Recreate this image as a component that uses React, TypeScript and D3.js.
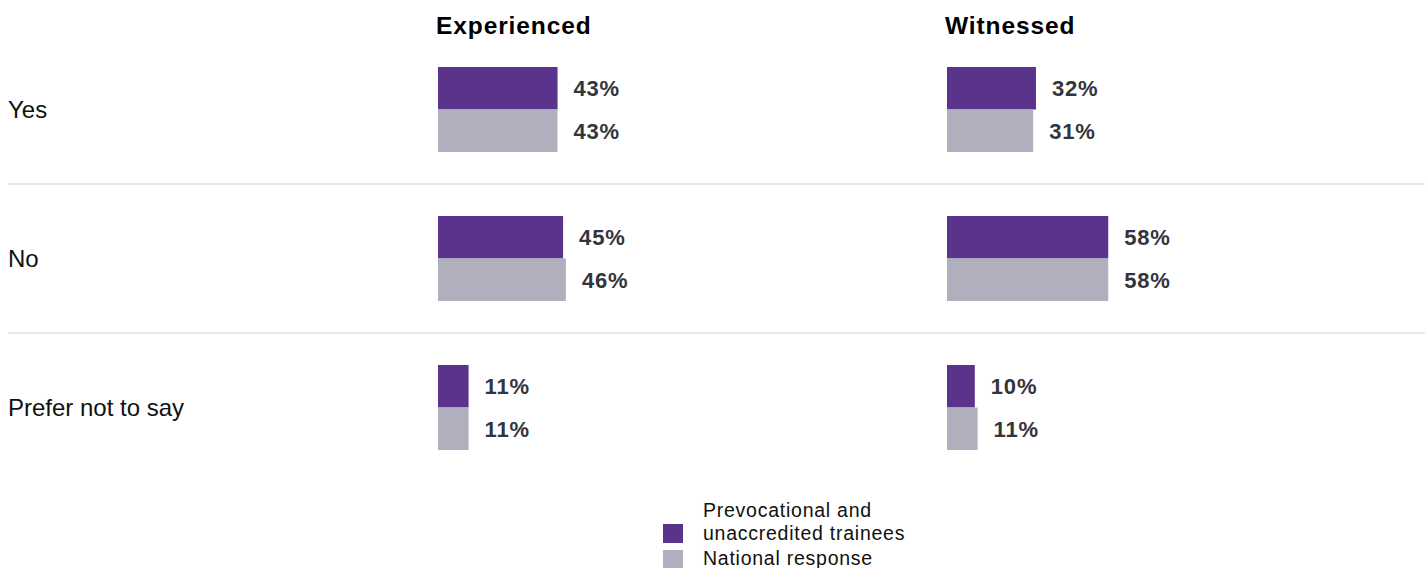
import React from "react";
import * as d3 from "d3";

const categories = ["Yes", "No", "Prefer not to say"];
const panels = ["Experienced", "Witnessed"];
const seriesNames = ["Prevocational and unaccredited trainees", "National response"];
const experiencedPrevoc = [43, 45, 11];
const experiencedNational = [43, 46, 11];
const witnessedPrevoc = [32, 58, 10];
const witnessedNational = [31, 58, 11];

const colors = ["#5a338d", "#b0afbd"];

export default function App() {
  const W = 1425;
  const H = 568;
  const panelData = [
    [experiencedPrevoc, experiencedNational],
    [witnessedPrevoc, witnessedNational],
  ];
  const panelX = d3.scalePoint<string>().domain(panels).range([438, 947]);
  const x = d3.scaleLinear().domain([0, 100]).range([0, 278]);
  const y = d3.scaleBand<string>().domain(categories).range([35, 482]);
  const bandH = y.bandwidth();
  const barH = 42.5;

  return (
    <svg width={W} height={H} style={{ position: "absolute", left: 0, top: 0 }}
      fontFamily="'Liberation Sans', Arial, Helvetica, sans-serif">
      {panels.map((p) => (
        <text key={p} x={(panelX(p) as number) - 2} y={34} fontSize={24.5} fontWeight="bold"
          letterSpacing={0.9} fill="#000">{p}</text>
      ))}
      {categories.map((c, i) => {
        const cy = (y(c) as number) + bandH / 2;
        return (
          <g key={c}>
            <text x={8} y={cy + 8.8} fontSize={24} fill="#111">{c}</text>
            {i > 0 && (
              <line x1={8} x2={W} y1={y(c) as number} y2={y(c) as number} stroke="#e0e0e0" strokeWidth={1.5} />
            )}
            {panels.map((p, pi) => {
              const px = panelX(p) as number;
              return panelData[pi].map((s, si) => {
                const v = s[i];
                const top = cy - barH + si * barH;
                return (
                  <g key={p + si}>
                    <rect x={px} y={top} width={x(v)} height={barH} fill={colors[si]} />
                    <text x={px + x(v) + 16} y={top + barH / 2 + 8} fontSize={22} fontWeight="bold"
                      letterSpacing={0.8} fill="#34343c">{v}%</text>
                  </g>
                );
              });
            })}
          </g>
        );
      })}
      <g>
        <rect x={663} y={524} width={20} height={19} fill={colors[0]} />
        <text x={703} y={517} fontSize={19.5} letterSpacing={0.75} fill="#111">Prevocational and</text>
        <text x={703} y={540} fontSize={19.5} letterSpacing={0.75} fill="#111">unaccredited trainees</text>
        <rect x={663} y={550} width={20} height={19} fill={colors[1]} />
        <text x={703} y={565} fontSize={19.5} letterSpacing={0.75} fill="#111">National response</text>
      </g>
    </svg>
  );
}
